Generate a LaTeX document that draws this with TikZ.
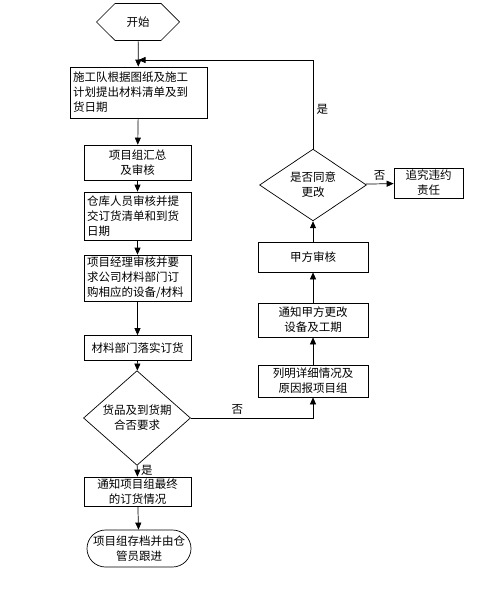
\documentclass[tikz,border=0pt]{standalone}
\usepackage{fontspec}
\newfontfamily\cjk{Noto Sans CJK SC}
\usetikzlibrary{shapes.geometric,shapes.misc,shapes.symbols,arrows.meta}
\begin{document}
\begin{tikzpicture}[x=1pt,y=-1pt,
  every node/.style={font=\cjk\fontsize{11.5}{15}\selectfont},
  box/.style={draw,line width=0.7pt,inner sep=2pt,align=center},
  lbox/.style={box,align=left},
  dec/.style={draw,diamond,line width=0.7pt,inner sep=0pt,align=center},
  flow/.style={line width=0.7pt,-{Triangle[length=7pt,width=6pt]}}]
\useasboundingbox (0,0) rectangle (500,596);
\node[draw,signal,signal to=east and west,line width=0.7pt,minimum width=83pt,minimum height=37pt] (start) at (138,22) {开始};
\node[lbox,minimum width=137pt,minimum height=51pt,text width=131pt] (plan) at (138.5,92.5) {施工队根据图纸及施工\\计划提出材料清单及到\\货日期};
\node[box,minimum width=107pt,minimum height=35pt] (sum) at (137.5,162.5) {项目组汇总\\及审核};
\node[lbox,minimum width=107pt,minimum height=48pt,text width=101pt] (store) at (137.5,216) {仓库人员审核并提\\交订货清单和到货\\日期};
\node[lbox,minimum width=107pt,minimum height=46pt,text width=101pt] (pm) at (137.5,278) {项目经理审核并要\\求公司材料部门订\\购相应的设备/材料};
\node[box,minimum width=107pt,minimum height=25pt] (order) at (137.5,348) {材料部门落实订货};
\node[dec,minimum width=107pt,minimum height=60pt] (check) at (137,418) {货品及到货期\\合否要求};
\node[box,minimum width=107pt,minimum height=29pt,inner sep=1pt] (notice) at (137.5,491.5) {通知项目组最终\\的订货情况};
\node[draw,rounded rectangle,line width=0.7pt,minimum width=106pt,minimum height=37pt,inner sep=1pt,align=center] (archive) at (139,548.5) {项目组存档并由仓\\管员跟进};
\node[box,minimum width=110pt,minimum height=32pt,inner sep=1pt] (detail) at (313,381) {列明详细情况及\\原因报项目组};
\node[box,minimum width=110pt,minimum height=34pt] (inform) at (313,320) {通知甲方更改\\设备及工期};
\node[box,minimum width=110pt,minimum height=30pt] (approve) at (313,257) {甲方审核};
\node[dec,minimum width=107pt,minimum height=46pt] (agree) at (313,185) {是否同意\\更改};
\node[box,minimum width=69pt,minimum height=30pt] (blame) at (428.5,183) {追究违约\\责任};
\coordinate (join) at (138.5,60);
\draw[flow] (start) -- (plan);
\draw[flow] (plan) -- (sum);
\draw[flow] (sum) -- (store);
\draw[flow] (store) -- (pm);
\draw[flow] (pm) -- (order);
\draw[flow] (order) -- (check);
\draw[flow] (check) -- node[right,pos=0.42] {是} (notice);
\draw[flow] (notice) -- (archive);
\draw[flow] (check.east) -| node[above,pos=0.19] {否} (detail.south);
\draw[flow] (detail) -- (inform);
\draw[flow] (inform) -- (approve);
\draw[flow] (approve) -- (agree);
\draw[flow] (agree) -- node[above] {否} (blame);
\draw[flow] (agree.north) |- node[right,pos=0.22] {是} (join);
\end{tikzpicture}
\end{document}
